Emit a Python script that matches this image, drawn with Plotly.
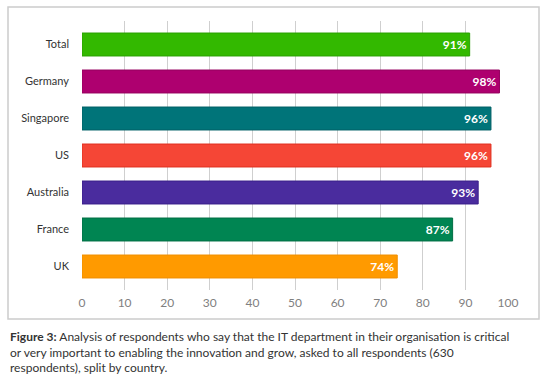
import plotly.graph_objects as go

categories = ["Total", "Germany", "Singapore", "US", "Australia", "France", "UK"]
values = [91, 98, 96, 96, 93, 87, 74]
colors = ["#33b900", "#ae006f", "#007479", "#f54636", "#4a2c9e", "#008552", "#ff9a00"]
line_colors = ["#2aa000", "#95005f", "#006066", "#e0301f", "#3a1f8a", "#006f44", "#f08f00"]
tick_vals = list(range(0, 101, 10))
caption = ("<b>Figure 3:</b> Analysis of respondents who say that the IT department in their organisation is critical<br>"
           "or very important to enabling the innovation and grow, asked to all respondents (630<br>"
           "respondents), split by country.")

W, H = 547, 383
L, R, T, B = 82, 39, 21, 93
pw, ph = W - L - R, H - T - B

fig = go.Figure(go.Bar(
    x=values, y=categories, orientation="h",
    marker=dict(color=colors, line=dict(color=line_colors, width=1)),
    width=0.62,
    text=[f"{v}%" for v in values], textposition="inside", insidetextanchor="end",
    textfont=dict(family="Lato", size=12, color="white", weight="bold"),
    cliponaxis=False,
))

def px_x(p):
    return (p - L) / pw

def px_y(p):
    return (H - B - p) / ph

fig.update_layout(
    width=W, height=H,
    margin=dict(l=L, r=R, t=T, b=B),
    paper_bgcolor="white", plot_bgcolor="white",
    showlegend=False,
    font=dict(family="Lato", color="#333"),
    xaxis=dict(range=[0, 100], tickvals=tick_vals, showgrid=True, gridcolor="#cfcfcf",
               gridwidth=1, zeroline=False, showline=False,
               tickfont=dict(size=12, color="#808080"), ticks="", ticklabelstandoff=4),
    yaxis=dict(categoryorder="array", categoryarray=categories, autorange=False,
               range=[6.635, -0.635], showgrid=False, zeroline=False, showline=False,
               tickfont=dict(size=11, color="#333"), ticks="", ticklabelstandoff=12),
    shapes=[dict(type="rect", xref="paper", yref="paper",
                 x0=px_x(8), x1=px_x(539), y0=px_y(319), y1=px_y(7),
                 line=dict(color="#cccccc", width=1.5), fillcolor="rgba(0,0,0,0)", layer="below")],
    annotations=[dict(text=caption, xref="paper", yref="paper", x=px_x(8), y=px_y(327),
                      xanchor="left", yanchor="top", align="left", showarrow=False,
                      font=dict(family="Lato", size=12, color="#333"))],
)

fig.write_html("out.html", config={"displayModeBar": False},
               post_script="document.body.style.margin='0';document.body.style.overflow='hidden';")
